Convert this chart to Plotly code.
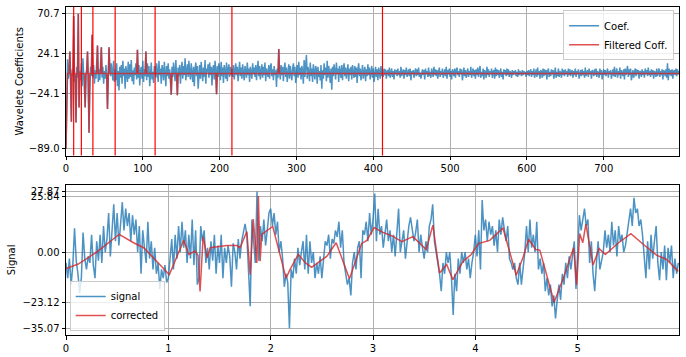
import plotly.graph_objects as go

# ---------------- Wavelet coefficients (approximation + detail levels) ----------------
cA = [-89.0, -30, 17, -6, 2, 26, -10, -57, 5, -4]
cD1 = [68, -10, -2, -58, 8, -5, 70.7, -40, 3, -8]
cD2 = [12, -15, 18, 2, -10, -40, 0, 5, 26, -15, -70, -20, 8, -3, 46]
cD3 = [-5, 10, -12, 4, -6, 8, 33, -10, 5, -8, 12, 31, -5, 8, -12,
       3, -6, 10, -3, -42, -5, 31, 8, -3, 12, 5, -8, 15, -10]
cD4 = [5, -8, 12, -15, 3, -20, 8, -5, 10, -12,
       15, -3, 6, -18, 9, 2, -10, 14, -6, 11,
       -4, 16, -9, 4, -13, 7, -2, 12, -7, 28,
       -5, 10, -14, 3, 8, -6, 15, -10, 5, -3,
       26, -8, 12, -4, 9, -15, 6, 13, -7, 2,
       -11, 8]
cD5 = [8, -5, 12, 3, -10, 15, -2, 6, -12, 10,
       4, -8, 14, 0, -15, 9, -3, 12, -6, 5,
       -10, -25, 8, -4, 13, 2, -9, 16, -5, -25.5,
       7, -3, 10, -12, 4, 14, -6, 9, -2, 18,
       -8, 6, 11, -4, 15, 0, -7, 12, 3, -10,
       8, -15, 5, 13, -3, 9, -18, 4, 10, -6,
       14, 2, -9, 7, -4, 16, -12, 6, 1, 11,
       -5, 13, -2, 8, -14, 5, 10, -7, 15, 3,
       -24.5, 9, -4, 12, 6, -8, 14, -3, 7, -11,
       10, 2, -6, 13, -9, 5, 11, -4, 8, -2]
cD6 = [6, -4, 10, -7, 3, 12, -2, 8, -9, 5,
       14, -3, 7, -6, 11, 0, -8, 9, 4, -5,
       13, -2, 6, -10, 8, 3, -6, 12, -1, 7,
       -4, 10, -8, 5, 15, -3, 9, -7, 2, 11,
       -5, 8, -2, 13, -9, 6, 1, -4, 10, -6,
       7, 12, -3, 5, -8, 9, -2, 4, -16, 6,
       -5, 29, 3, -7, 10, -2, 8, -9, 5, 13,
       -4, 7, -10, 2, 11, -6, 9, 0, -8, 6,
       12, -3, 8, -11, 4, 10, -5, 14, -2, 7,
       -7, 9, 3, -12, 16, -4, 10, 22, -6, 8,
       2, -9, 13, -3, 6, -10, 11, 0, -7, 9,
       5, -12, 8, -4, 3, -8, 10, -18, 4, -6,
       12, -2, 7, -9, 15, -5, 9, 1, -11, 6,
       -19, 8, -3, 11, 4, -7, 13, -1, 6, -10,
       9, 2, -5, 10, -8, 5, 12, -3, 7, -6,
       3, 11, -9, 6, -2, 8, -7, 10, 1, -5,
       9, -4, 7, -11, 5, 12, -3, 6, -8, 4,
       10, -6, 2, 8, -9, 5, -3, 11, -2, 7,
       -7, 4, 9, -5, 6, -10, 3, 8, -4, 5,
       -8, 7, 2, -6, 9, -3]
cD7 = [3, -4, 6, -2, 5, -6, 2, 4, -3, 7,
       -5, 1, 6, -4, 3, -7, 5, -1, 4, -3,
       6, -2, 3, -5, 8, -3, 2, 5, -6, 4,
       -2, 7, -4, 1, 5, -3, 6, -8, 3, -1,
       4, -5, 2, 6, -3, 5, -2, 7, -4, 1,
       -6, 3, 5, -2, 4, -7, 6, -1, 3, -4,
       7, -3, 2, -5, 6, 1, -4, 8, -2, 5,
       -3, 4, -6, 2, 7, -4, 3, -2, 6, -5,
       1, 5, -3, 8, -6, 4, -1, 6, -4, 3,
       -7, 5, 2, -3, 6, -5, 4, 7, -2, 3,
       -4, 6, -1, 5, -8, 3, 7, -3, 4, -5,
       2, 6, -4, 3, -2, 8, -5, 1, 6, -3,
       4, -6, 5, -2, 7, -4, 3, 9, -5, 2,
       -3, 6, -7, 4, 1, -5, 8, -2, 5, -4,
       3, -1, 6, -5, 2, 4, -6, 7, -3, 5,
       -2, 4, -5, 3, 6, -4, 2, -7, 5, -1,
       4, -3, 6, -2, 5, -4, 3, 1, -5, 4,
       -2, 3, -1, 4, -3, 2, -4, 5, -2, 3,
       1, -3, 4, -2, 3, -1, 2, -4, 3, -2,
       4, -3, 2, 5, -4, 3, -2, 6, -5, 1,
       5, -4, 7, -2, 3, -6, 4, 2, -5, 6,
       -3, 5, -2, 4, -7, 3, 6, -4, 2, -3,
       5, -1, 4, -6, 3, 7, -5, 2, -3, 6,
       -4, 3, 1, -5, 6, -2, 4, -3, 5, -1,
       3, -4, 6, -2, 5, -3, 2, 4, -5, 3,
       -2, 6, -4, 3, -1, 5, -6, 2, 4, -3,
       5, -2, 3, -5, 7, -3, 1, 4, -4, 6,
       -1, 3, -6, 4, 2, -3, 5, -2, 6, -4,
       3, 1, -5, 6, -2, 4, -7, 3, 5, -2,
       4, -3, 2, 6, -5, 3, -1, 4, -6, 2,
       5, -3, 8, -4, 2, 6, -5, 3, -2, 7,
       -6, 4, 1, -3, 5, -7, 6, -2, 3, 9,
       -4, 5, -2, 6, -8, 3, 4, -5, 2, 6,
       -3, 5, -1, 4, -6, 3, 2, -4, 5, -2,
       3, -5, 6, -1, 4, -3, 7, -2, 3, -4,
       5, -2, 4, -6, 3, 1, -4, 6, -3, 2,
       6, -4, 3, -2, 5, -7, 4, 2, -3, 5,
       -5, 12, -8, 6, -2, 4, -3, 5, -6, 3,
       4, -2, 6, -3, 5, -1, 3]

levels = [cA, cD1, cD2, cD3, cD4, cD5, cD6, cD7]
threshold = 24.1
coef_ticks = [-89.0, -24.1, 24.1, 70.7]
coef_ticktext = ["\u221289.0", "\u221224.1", "24.1", "70.7"]

# ---------------- Signal (60 samples per unit) ----------------
sample_rate = 60
signal = [
    # 0 - 1
    -5, -12, -3, -15, -6, 11, -4, -10, -19, -12,
    9, -3, -8, -2, -5, 8, -6, -12, 5, -4,
    8, -5, 12, 0, 6, 18, -2, 10, 22, 5,
    18, 3, 14, 23, 10, 20, 12, 18, 5, 17,
    8, 15, 0, 12, -10, 10, 2, -5, 14, -3,
    5, -8, 2, -10, -5, -17, -8, -12, -6, -14,
    # 1 - 2
    -12, -2, 6, -8, 8, -3, 12, 0, 14, 2,
    10, -5, 8, -3, 15, -6, 10, -15, -12, 12,
    5, 10, -5, 2, -8, 5, -4, 8, -10, 3,
    -5, 8, -12, 2, -5, 3, -2, -16, 4, 0,
    -8, 6, -3, 5, 10, 13, 8, -10, -25, 15,
    5, -5, 27.87, -4, 12, 5, 15, 3, 10, 18,
    # 2 - 3
    20, 12, 18, 8, 14, 0, 5, -3, -16, -10,
    -14, -35.07, -8, -12, -3, -10, 2, -6, 0, 5,
    -8, 8, -10, 5, -5, 0, -12, -5, -10, -2,
    -12, -3, 5, 3, 8, -3, 6, 4, 10, 7,
    14, 2, 10, -5, -10, -15, -12, -20, -5, 0,
    -8, 2, 5, -12, 10, 8, 14, 5, 18, 8,
    # 3 - 4
    15, 27, 5, 20, 8, 12, 2, 10, 15, 5,
    10, 0, 8, -2, 12, 20, 0, 5, 10, -3,
    5, 12, 16, 10, 5, 9, 15, 0, 8, 2,
    -3, 5, 0, 12, 15, 22, 5, 0, -5, -10,
    -18, -5, -10, 0, -5, 0, -12, -29, -10, -18,
    -3, -10, 0, -5, 0, -8, -3, -12, -5, 0,
    # 4 - 5
    8, -2, 10, -8, 24, 10, 15, 5, 14, 8,
    12, 3, 10, 0, 15, 8, 16, 10, 5, 12,
    -3, -5, -8, -5, -12, -15, -5, -15, -8, 0,
    12, 0, 15, 2, 8, 0, 14, -8, -3, -10,
    -5, -18, -12, -20, -15, -25, -20, -30.6, -22, -15,
    -22, -10, -15, -5, -12, -2, -8, 0, 5, -17,
    # 5 - 6
    0, 17, 10, 15, 20, 12, 15, -5, 5, -10,
    -18, -5, 5, -8, -3, 0, 10, 2, 8, 0,
    14, 3, 10, -2, 12, 5, 8, 0, 3, 8,
    15, 20, 12, 25, 18, 20, 12, 15, 8, -2,
    -12, 5, -8, 8, -3, 5, 12, -5, -13, 0,
    -8, 3, -13, 2, -5, 3, -12, -3, -10, -5,
]

corrected_x = [0, 0.12, 0.30, 0.52, 0.66, 0.76, 1.01, 1.15, 1.20, 1.26, 1.29, 1.31,
               1.34, 1.38, 1.41, 1.47, 1.57, 1.67, 1.70, 1.767, 1.80, 1.83, 1.865,
               1.88, 1.897, 1.913, 2.02, 2.15, 2.19, 2.27, 2.34, 2.40, 2.48, 2.55,
               2.64, 2.77, 2.89, 2.94, 3.01, 3.10, 3.20, 3.28, 3.39, 3.52, 3.585,
               3.65, 3.72, 3.78, 3.88, 3.96, 4.03, 4.14, 4.27, 4.40, 4.47, 4.52,
               4.59, 4.63, 4.77, 4.86, 4.96, 4.99, 5.02, 5.05, 5.08, 5.15, 5.21,
               5.27, 5.40, 5.52, 5.64, 5.77, 5.87, 5.983]
corrected_y = [-7.6, -5.5, 0.0, 8.2, 4.3, 2.0, -10.4, 5.4, -1.1, 0.5, -1.5, -18.2,
               7.0, -2.6, 2.0, 2.3, 3.0, 3.0, 2.0, 9.5, -10.4, 15.2, -5.0,
               25.84, -4.2, 8.2, 11.8, -12.0, -8.0, -1.1, -5.0, -7.0, -4.2, -1.9,
               4.3, -12.3, 4.0, 5.4, 11.3, 9.0, 7.1, 4.8, 7.1, 1.2, 12.4,
               -9.6, -5.7, -12.7, -4.2, -1.1, 3.9, 5.4, 11.0, -10.7, -1.9, 5.9,
               1.2, 0.9, -23.12, -12.0, 2.0, -15.0, 8.5, 4.3, 12.9, -6.0, 1.6,
               -1.1, 4.3, 8.5, 3.6, -1.4, -3.4, -8.9]

sig_ticks = [-35.07, -23.12, 0.0, 25.84, 27.87]
sig_ticktext = ["\u221235.07", "\u221223.12", "0.00", "25.84", "27.87"]

# ---------------- derived ----------------
coef = [v for lv in levels for v in lv]
coef_x = list(range(len(coef)))
filtered = [v if abs(v) > threshold else 0 for v in coef]
bounds = []
acc = 0
for lv in levels[:-1]:
    acc += len(lv)
    bounds.append(acc)
sig_x = [i / sample_rate for i in range(len(signal))]

BLUE = "rgba(31,119,180,0.8)"
RED = "rgba(214,39,40,0.8)"
FONT = "DejaVu Sans"

fig = go.Figure()
fig.add_trace(go.Scatter(x=coef_x, y=coef, mode="lines", name="Coef.",
                         line=dict(color=BLUE, width=1.5), xaxis="x", yaxis="y",
                         legend="legend"))
fig.add_trace(go.Scatter(x=coef_x, y=filtered, mode="lines", name="Filtered Coff.",
                         line=dict(color=RED, width=1.5), xaxis="x", yaxis="y",
                         legend="legend"))
fig.add_trace(go.Scatter(x=sig_x, y=signal, mode="lines", name="signal",
                         line=dict(color=BLUE, width=1.5), xaxis="x2", yaxis="y2",
                         legend="legend2"))
fig.add_trace(go.Scatter(x=corrected_x, y=corrected_y, mode="lines", name="corrected",
                         line=dict(color=RED, width=1.5), xaxis="x2", yaxis="y2",
                         legend="legend2"))

for b in bounds:
    fig.add_shape(type="line", xref="x", yref="y domain", x0=b, x1=b, y0=0, y1=1,
                  line=dict(color="#ff0000", width=1.2))

def pad(lo, hi):
    d = (hi - lo) * 0.05
    return [lo - d, hi + d]

axis_common = dict(showline=True, mirror=True, linecolor="#000000", linewidth=1,
                   ticks="outside", ticklen=3.5, tickcolor="#000000", tickwidth=1,
                   showgrid=True, gridcolor="#b0b0b0", gridwidth=1, zeroline=False,
                   automargin=False,
                   tickfont=dict(family=FONT, size=10, color="#000000"))

fig.update_layout(
    width=686, height=357,
    margin=dict(l=66, r=7, t=7, b=22, autoexpand=False),
    paper_bgcolor="white", plot_bgcolor="white",
    font=dict(family=FONT, size=10, color="#000000"),
    hovermode=False,
    xaxis=dict(domain=[0, 1], anchor="y", range=[0, len(coef) - 1],
               tick0=0, dtick=100, **axis_common),
    yaxis=dict(domain=[0.547, 1], anchor="x", range=pad(min(coef), max(coef)),
               tickmode="array", tickvals=coef_ticks, ticktext=coef_ticktext,
               title=dict(text="Wavelete Coefficients", standoff=3,
                          font=dict(family=FONT, size=10)), **axis_common),
    xaxis2=dict(domain=[0, 1], anchor="y2", range=[0, 5.99], tick0=0, dtick=1,
                **axis_common),
    yaxis2=dict(domain=[0, 0.458], anchor="x2", range=pad(min(signal), max(signal)),
                tickmode="array", tickvals=sig_ticks, ticktext=sig_ticktext,
                title=dict(text="Signal", standoff=4, font=dict(family=FONT, size=10)),
                **axis_common),
    legend=dict(x=0.992, y=0.99, xanchor="right", yanchor="top",
                bgcolor="rgba(255,255,255,0.8)", bordercolor="#cccccc", borderwidth=1,
                font=dict(family=FONT, size=10), tracegroupgap=0),
    legend2=dict(x=0.006, y=0.012, xanchor="left", yanchor="bottom",
                 bgcolor="rgba(255,255,255,0.8)", bordercolor="#cccccc", borderwidth=1,
                 font=dict(family=FONT, size=10), tracegroupgap=0),
    showlegend=True,
)

# remove the browser's default 8px page margin so the figure sits at the window origin
fig.write_html("out.html", config={"displayModeBar": False},
               post_script="document.body.style.margin='0';")
